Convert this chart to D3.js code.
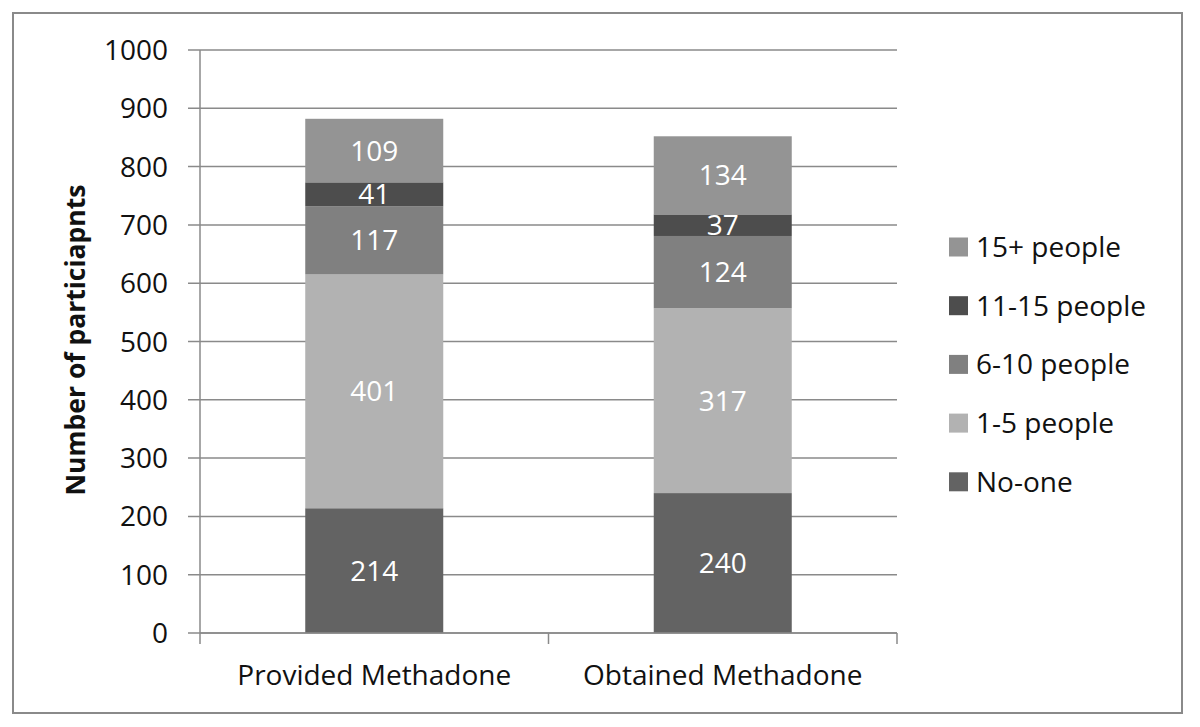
<!DOCTYPE html>
<html><head><meta charset="utf-8">
<script src="https://cdn.jsdelivr.net/npm/d3@7"></script>
<style>body{margin:0;background:#fff}svg{display:block}</style>
</head><body>
<script>
const categories = ["Provided Methadone", "Obtained Methadone"];
const seriesNames = ["No-one", "1-5 people", "6-10 people", "11-15 people", "15+ people"];
const noOne = [214, 240];
const oneToFive = [401, 317];
const sixToTen = [117, 124];
const elevenToFifteen = [41, 37];
const fifteenPlus = [109, 134];
const yTicks = [0,100,200,300,400,500,600,700,800,900,1000];
const colors = ["#636363", "#b2b2b2", "#808080", "#4d4d4d", "#949494"];

const W = 1200, H = 727;
const svg = d3.select("body").append("svg").attr("width", W).attr("height", H);
const font = "'Open Sans', sans-serif";

svg.append("rect").attr("x", 13).attr("y", 13).attr("width", 1169).attr("height", 700)
  .attr("fill", "#fff").attr("stroke", "#8a8a8a").attr("stroke-width", 2);

const x0 = 200, x1 = 897, yTop = 50, yBot = 633;
const x = d3.scaleBand().domain(categories).range([x0, x1]).paddingInner(0.604).paddingOuter(0.302);
const y = d3.scaleLinear().domain([0, 1000]).range([yBot, yTop]);

const rows = categories.map((c, i) => ({cat: c, "No-one": noOne[i], "1-5 people": oneToFive[i],
  "6-10 people": sixToTen[i], "11-15 people": elevenToFifteen[i], "15+ people": fifteenPlus[i]}));
const stack = d3.stack().keys(seriesNames)(rows);

// gridlines
svg.append("g").selectAll("line").data(yTicks).join("line")
  .attr("x1", 188).attr("x2", x1).attr("y1", d => y(d)).attr("y2", d => y(d))
  .attr("stroke", "#8a8a8a").attr("stroke-width", 1.5);

// y tick labels
svg.append("g").selectAll("text").data(yTicks).join("text")
  .attr("x", 168).attr("y", d => y(d)).attr("dy", "0.36em").attr("text-anchor", "end")
  .attr("font-family", font).attr("font-size", 28).attr("fill", "#111").text(d => d);

// bars
const g = svg.append("g");
stack.forEach((s, si) => {
  g.append("g").selectAll("rect").data(s).join("rect")
    .attr("x", d => x(d.data.cat)).attr("width", x.bandwidth())
    .attr("y", d => y(d[1])).attr("height", d => y(d[0]) - y(d[1]))
    .attr("fill", colors[si]);
  g.append("g").selectAll("text").data(s).join("text")
    .attr("x", d => x(d.data.cat) + x.bandwidth() / 2)
    .attr("y", d => (y(d[0]) + y(d[1])) / 2).attr("dy", "0.36em")
    .attr("text-anchor", "middle").attr("font-family", font).attr("font-size", 28)
    .attr("fill", "#fff").text(d => d[1] - d[0]);
});

// axes lines
svg.append("line").attr("x1", x0).attr("x2", x0).attr("y1", yTop).attr("y2", yBot)
  .attr("stroke", "#8a8a8a").attr("stroke-width", 1.5);
svg.append("line").attr("x1", x0).attr("x2", x1).attr("y1", yBot).attr("y2", yBot)
  .attr("stroke", "#8a8a8a").attr("stroke-width", 1.5);
const boundaries = [x0, (x0 + x1) / 2, x1];
svg.append("g").selectAll("line").data(boundaries).join("line")
  .attr("x1", d => d).attr("x2", d => d).attr("y1", yBot).attr("y2", yBot + 11)
  .attr("stroke", "#8a8a8a").attr("stroke-width", 1.5);

// x labels
svg.append("g").selectAll("text").data(categories).join("text")
  .attr("x", d => x(d) + x.bandwidth() / 2).attr("y", 685).attr("text-anchor", "middle")
  .attr("font-family", font).attr("font-size", 28).attr("fill", "#111").text(d => d);

// y title
svg.append("text").attr("transform", "translate(85,340) rotate(-90)")
  .attr("text-anchor", "middle").attr("font-family", font).attr("font-size", 26.5)
  .attr("font-weight", "bold").attr("fill", "#111").text("Number of particiapnts");

// legend
const legendOrder = seriesNames.map((n, i) => ({n, c: colors[i]})).reverse();
const lg = svg.append("g").selectAll("g").data(legendOrder).join("g")
  .attr("transform", (d, i) => `translate(949, ${247 + i * 58.7})`);
lg.append("rect").attr("x", 0).attr("y", -9.5).attr("width", 19).attr("height", 19).attr("fill", d => d.c);
lg.append("text").attr("x", 27).attr("dy", "0.36em").attr("font-family", font).attr("font-size", 28)
  .attr("fill", "#111").text(d => d.n);
</script>
</body></html>
